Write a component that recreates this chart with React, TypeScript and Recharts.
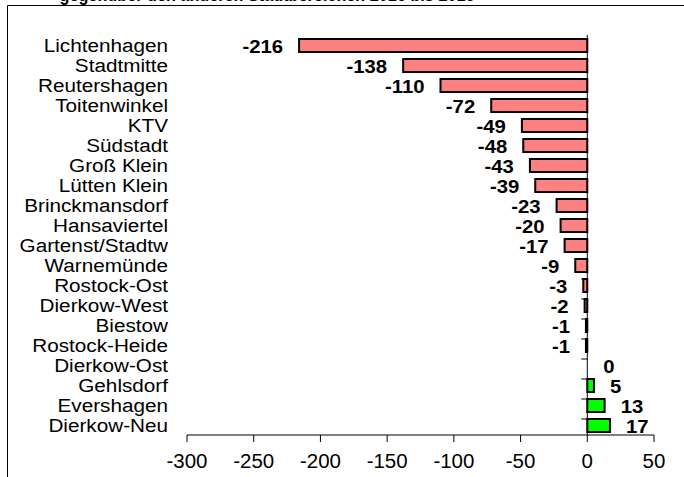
import React from 'react';
import { BarChart, Bar, XAxis, YAxis, ReferenceLine, LabelList } from 'recharts';

const categories = [
  'Lichtenhagen', 'Stadtmitte', 'Reutershagen', 'Toitenwinkel', 'KTV', 'Südstadt',
  'Groß Klein', 'Lütten Klein', 'Brinckmansdorf', 'Hansaviertel', 'Gartenst/Stadtw',
  'Warnemünde', 'Rostock-Ost', 'Dierkow-West', 'Biestow', 'Rostock-Heide',
  'Dierkow-Ost', 'Gehlsdorf', 'Evershagen', 'Dierkow-Neu',
];
const values = [-216, -138, -110, -72, -49, -48, -43, -39, -23, -20, -17, -9, -3, -2, -1, -1, 0, 5, 13, 17];
const xTicks = [-300, -250, -200, -150, -100, -50, 0, 50];
const title = 'gegenüber den anderen Stadtbereichen 2015 bis 2016';

const data = categories.map((name, i) => ({ name, value: values[i] }));

const FONT = 'Arial, "Liberation Sans", sans-serif';

function Txt({ x, y, anchor, bold, size = 19, sx = 1.08, children }: any) {
  return (
    <text
      transform={`translate(${x},${y}) scale(${sx},1)`}
      textAnchor={anchor}
      fontSize={size}
      fontWeight={bold ? 'bold' : 'normal'}
      fontFamily={FONT}
      fill="#000"
    >
      {children}
    </text>
  );
}

const YTick = (props: any) => {
  const { x, y, payload } = props;
  return <Txt x={x} y={y + 7} anchor="end" size={19} sx={1.09}>{payload.value}</Txt>;
};

const XTick = (props: any) => {
  const { x, y, payload } = props;
  return <Txt x={x} y={y + 23.5} anchor="middle" size={19.5} sx={1.05}>{payload.value}</Txt>;
};

const BarShape = (props: any) => {
  const { x, y, width, height, value, background } = props;
  const v = Array.isArray(value) ? value[1] - value[0] : value;
  const left = Math.min(x, x + width);
  const w = Math.abs(width);
  const zero = v < 0 ? Math.max(x, x + width) : Math.min(x, x + width);
  const bandTop = background && background.y != null ? background.y : y - (20 - height) / 2;
  return (
    <g>
      {w > 0 && (
        <rect x={left} y={y} width={w} height={height}
          fill={v < 0 ? '#FF8080' : '#00FF00'} stroke="#000" strokeWidth={2} />
      )}
      <line x1={zero - 6} x2={zero} y1={bandTop} y2={bandTop} stroke="#000" strokeWidth={1} />
    </g>
  );
};

const ValueLabel = (props: any) => {
  const { x, y, width, height, value } = props;
  const left = Math.min(x, x + width);
  const right = Math.max(x, x + width);
  const cy = y + height / 2 + 7;
  if (value < 0) {
    return <Txt x={left - 16} y={cy} anchor="end" bold size={19} sx={1.07}>{value}</Txt>;
  }
  return <Txt x={right + 16} y={cy} anchor="start" bold size={19} sx={1.07}>{value}</Txt>;
};

export default function App() {
  return (
    <div style={{ position: 'absolute', left: 0, top: 0, width: 684, height: 477, background: '#fff' }}>
      <BarChart
        width={684}
        height={477}
        data={data}
        layout="vertical"
        margin={{ top: 35, right: 30, bottom: 12, left: 0 }}
        barCategoryGap={0}
      >
        <XAxis
          type="number"
          domain={[-300, 50]}
          ticks={xTicks}
          allowDataOverflow
          axisLine={{ stroke: '#000' }}
          tickLine={{ stroke: '#000' }}
          tickSize={7}
          tickMargin={2}
          height={30}
          tick={<XTick />}
        />
        <YAxis
          type="category"
          dataKey="name"
          width={187}
          axisLine={false}
          tickLine={false}
          tickMargin={13}
          interval={0}
          tick={<YTick />}
        />
        <ReferenceLine x={0} stroke="#000" strokeWidth={1} />
        <Bar dataKey="value" barSize={13} isAnimationActive={false} shape={<BarShape />}>
          <LabelList dataKey="value" content={<ValueLabel />} />
        </Bar>
      </BarChart>
      <svg
        width={684}
        height={477}
        style={{ position: 'absolute', left: 0, top: 0, pointerEvents: 'none' }}
      >
        <text x={267} y={1} textAnchor="middle" fontSize={18} fontWeight="bold" fontFamily={FONT}
          textLength={415} lengthAdjust="spacingAndGlyphs" fill="#000">{title}</text>
        <line x1={7.5} y1={5.5} x2={684} y2={5.5} stroke="#000" strokeWidth={1} />
        <line x1={7.5} y1={5.5} x2={7.5} y2={477} stroke="#000" strokeWidth={1} />
      </svg>
    </div>
  );
}
